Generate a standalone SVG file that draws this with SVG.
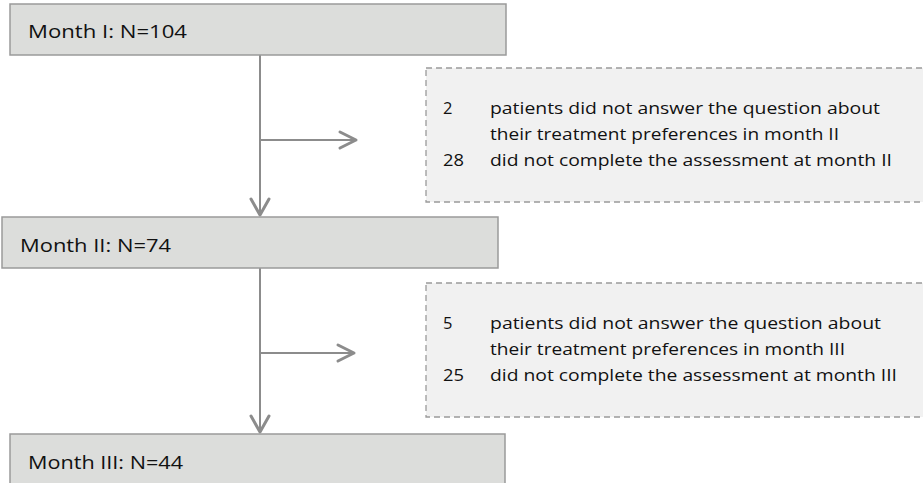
<svg xmlns="http://www.w3.org/2000/svg" width="923" height="483" viewBox="0 0 923 483">
<style>
.box{fill:#dcdddb;stroke:#9a9a9a;stroke-width:1.5}
.note{fill:#f1f1f1;stroke:#9a9a9a;stroke-width:1.3;stroke-dasharray:6,4}
.ttl{font-family:"Open Sans","Liberation Sans",sans-serif;font-size:19px;fill:#111111}
.t{font-family:"Open Sans","Liberation Sans",sans-serif;font-size:16.5px;fill:#111111}
.ln{stroke:#8c8c8c;stroke-width:2;fill:none}
.hd{stroke:#8c8c8c;stroke-width:3;fill:none;stroke-linecap:round;stroke-linejoin:round}
</style>
<rect width="923" height="483" fill="#ffffff"/>
<g id="connectors">
<line class="ln" x1="260" y1="55" x2="260" y2="215"/>
<polyline class="hd" points="251,199 260,215 269,199"/>
<line class="ln" x1="260" y1="140" x2="356" y2="140"/>
<polyline class="hd" points="340,132 356,140 340,148"/>
<line class="ln" x1="260" y1="268" x2="260" y2="432"/>
<polyline class="hd" points="251,416 260,432 269,416"/>
<line class="ln" x1="260" y1="353" x2="354" y2="353"/>
<polyline class="hd" points="338,345 354,353 338,361"/>
</g>
<g id="month1">
<rect class="box" x="10" y="4" width="496" height="51"/>
<text class="ttl" x="28" y="38" textLength="159" lengthAdjust="spacingAndGlyphs">Month I: N=104</text>
</g>
<g id="excl1">
<rect class="note" x="426" y="68" width="520" height="134"/>
<text class="t" x="443" y="114">2</text>
<text class="t" x="490" y="114" textLength="390" lengthAdjust="spacingAndGlyphs">patients did not answer the question about</text>
<text class="t" x="490" y="140" textLength="349" lengthAdjust="spacingAndGlyphs">their treatment preferences in month II</text>
<text class="t" x="443" y="166" textLength="21" lengthAdjust="spacingAndGlyphs">28</text>
<text class="t" x="490" y="166" textLength="402" lengthAdjust="spacingAndGlyphs">did not complete the assessment at month II</text>
</g>
<g id="month2">
<rect class="box" x="2" y="217" width="496" height="51"/>
<text class="ttl" x="20" y="252" textLength="151" lengthAdjust="spacingAndGlyphs">Month II: N=74</text>
</g>
<g id="excl2">
<rect class="note" x="426" y="283" width="520" height="134"/>
<text class="t" x="443" y="329">5</text>
<text class="t" x="490" y="329" textLength="391" lengthAdjust="spacingAndGlyphs">patients did not answer the question about</text>
<text class="t" x="490" y="355" textLength="355" lengthAdjust="spacingAndGlyphs">their treatment preferences in month III</text>
<text class="t" x="443" y="381" textLength="21" lengthAdjust="spacingAndGlyphs">25</text>
<text class="t" x="490" y="381" textLength="407" lengthAdjust="spacingAndGlyphs">did not complete the assessment at month III</text>
</g>
<g id="month3">
<rect class="box" x="10" y="434" width="495" height="60"/>
<text class="ttl" x="28" y="469" textLength="155" lengthAdjust="spacingAndGlyphs">Month III: N=44</text>
</g>
</svg>
